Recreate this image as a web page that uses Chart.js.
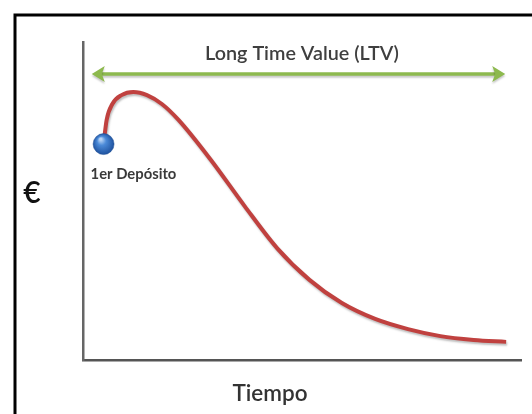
<!DOCTYPE html>
<html>
<head>
<meta charset="utf-8">
<script src="https://cdn.jsdelivr.net/npm/chart.js@4.4.1/dist/chart.umd.min.js"></script>
<style>
  html, body { margin: 0; padding: 0; background: #fff; }
  #wrap { position: relative; width: 532px; height: 414px; }
</style>
</head>
<body>
<div id="wrap"><canvas id="c" width="532" height="414"></canvas></div>
<script>
// ---- data (time vs €, arbitrary units) ----
const timeValues  = [4.7, 5.4, 6.7, 8.8, 11.5, 14.6, 18.0, 21.8, 29.2, 36.9, 44.3, 51.7, 59.1, 66.7, 74.2, 81.6, 89.2, 96.6];
const valueSeries = [67.9, 75.5, 80.5, 83.3, 84.3, 83.3, 80.5, 75.5, 62.9, 48.4, 35.2, 25.2, 17.9, 12.9, 9.7, 7.5, 6.3, 5.7];
const depositPoint = [{ x: 4.7, y: 67.9 }];
const depositLabel = "1er Depósito";
const ltvArrowX = [2.0, 96.4];
const ltvArrowY = 89.9;
const ltvLabel = "Long Time Value (LTV)";
const ltvLabelPos = { x: 50, y: 95.9 };
const xTitle = "Tiempo";
const yTitle = "€";

const curvePoints = timeValues.map((t, i) => ({ x: t, y: valueSeries[i] }));

const FONT = "Lato, 'Open Sans', sans-serif";

function fitFont(ctx, text, weight, targetWidth) {
  ctx.font = weight + " 20px " + FONT;
  const w = ctx.measureText(text).width;
  return 20 * targetWidth / w;
}

const decorPlugin = {
  id: 'decor',
  beforeDraw(chart) {
    const ctx = chart.ctx;
    ctx.save();
    ctx.fillStyle = '#fff';
    ctx.fillRect(0, 0, chart.width, chart.height);
    // outer frame (left and top edges visible)
    ctx.strokeStyle = '#000';
    ctx.lineWidth = 3;
    ctx.beginPath();
    ctx.moveTo(15, chart.height + 2);
    ctx.lineTo(15, 15);
    ctx.lineTo(chart.width + 2, 15);
    ctx.stroke();
    ctx.restore();
  },
  beforeDatasetDraw(chart, args) {
    if (args.index === 0) {
      const ctx = chart.ctx;
      ctx.save();
      ctx.shadowColor = 'rgba(0,0,0,0.25)';
      ctx.shadowBlur = 2;
      ctx.shadowOffsetX = 1;
      ctx.shadowOffsetY = 2;
    }
  },
  afterDatasetDraw(chart, args) {
    if (args.index === 0) chart.ctx.restore();
  },
  afterDraw(chart) {
    const ctx = chart.ctx;
    const sx = chart.scales.x, sy = chart.scales.y;
    const ca = chart.chartArea;
    ctx.save();
    // green double arrow
    const x1 = sx.getPixelForValue(ltvArrowX[0]);
    const x2 = sx.getPixelForValue(ltvArrowX[1]);
    const ay = sy.getPixelForValue(ltvArrowY);
    ctx.shadowColor = 'rgba(0,0,0,0.22)';
    ctx.shadowBlur = 2;
    ctx.shadowOffsetY = 2;
    ctx.strokeStyle = '#8db94e';
    ctx.fillStyle = '#8db94e';
    ctx.lineWidth = 3.5;
    ctx.beginPath();
    ctx.moveTo(x1 + 8, ay);
    ctx.lineTo(x2 - 8, ay);
    ctx.stroke();
    const head = (tip, dir) => {
      ctx.beginPath();
      ctx.moveTo(tip, ay);
      ctx.lineTo(tip - dir * 13, ay - 8);
      ctx.lineTo(tip - dir * 10, ay);
      ctx.lineTo(tip - dir * 13, ay + 8);
      ctx.closePath();
      ctx.fill();
    };
    head(x1, -1);
    head(x2, 1);
    ctx.shadowColor = 'transparent';

    // LTV label
    ctx.fillStyle = '#3f3f3f';
    ctx.textAlign = 'center';
    ctx.textBaseline = 'alphabetic';
    let fs = fitFont(ctx, ltvLabel, '600', 194);
    ctx.font = '600 ' + fs.toFixed(1) + 'px ' + FONT;
    ctx.fillText(ltvLabel, sx.getPixelForValue(ltvLabelPos.x), sy.getPixelForValue(ltvLabelPos.y) + 5);

    // deposit label
    const dp = depositPoint[0];
    fs = fitFont(ctx, depositLabel, 'bold', 86);
    ctx.font = 'bold ' + fs.toFixed(1) + 'px ' + FONT;
    ctx.fillStyle = '#3a3a3a';
    ctx.textAlign = 'left';
    ctx.fillText(depositLabel, sx.getPixelForValue(dp.x) - 13, sy.getPixelForValue(dp.y) + 35);

    // axis titles
    fs = fitFont(ctx, xTitle, '600', 75);
    ctx.font = '600 ' + fs.toFixed(1) + 'px ' + FONT;
    ctx.fillStyle = '#333';
    ctx.textAlign = 'center';
    ctx.fillText(xTitle, 270, ca.bottom + 41);

    ctx.font = '600 30px ' + FONT;
    ctx.fillStyle = '#111';
    ctx.textAlign = 'center';
    ctx.textBaseline = 'middle';
    ctx.fillText(yTitle, 32, 193);
    ctx.restore();
  }
};

function sphereFill(context) {
  const chart = context.chart;
  const sx = chart.scales && chart.scales.x, sy = chart.scales && chart.scales.y;
  if (!sx || !sy || !context.raw) return '#2f6fc4';
  const px = sx.getPixelForValue(context.raw.x);
  const py = sy.getPixelForValue(context.raw.y);
  if (!isFinite(px) || !isFinite(py)) return '#2f6fc4';
  const g = chart.ctx.createRadialGradient(px - 3, py - 5, 1, px, py, 11);
  g.addColorStop(0, '#b9d4f5');
  g.addColorStop(0.35, '#4b8ad8');
  g.addColorStop(1, '#1c4f9c');
  return g;
}

new Chart(document.getElementById('c'), {
  type: 'scatter',
  data: {
    datasets: [
      {
        data: curvePoints,
        showLine: true,
        borderColor: '#c0413f',
        borderWidth: 4,
        pointRadius: 0,
        tension: 0.4,
        cubicInterpolationMode: 'monotone',
        order: 2
      },
      {
        data: depositPoint,
        pointRadius: 10.5,
        pointHoverRadius: 10.5,
        backgroundColor: sphereFill,
        borderColor: '#1f4f94',
        borderWidth: 0.5,
        order: 1
      }
    ]
  },
  options: {
    responsive: false,
    animation: false,
    events: [],
    layout: { padding: { left: 83, right: 4, top: 42, bottom: 54 } },
    plugins: { legend: { display: false }, tooltip: { enabled: false }, title: { display: false } },
    scales: {
      x: {
        type: 'linear', min: 0, max: 100,
        ticks: { display: false },
        grid: { display: false, drawTicks: false },
        border: { display: true, color: '#555', width: 2.5 }
      },
      y: {
        type: 'linear', min: 0, max: 100,
        ticks: { display: false },
        grid: { display: false, drawTicks: false },
        border: { display: true, color: '#666', width: 2.5 }
      }
    }
  },
  plugins: [decorPlugin]
});
</script>
</body>
</html>
